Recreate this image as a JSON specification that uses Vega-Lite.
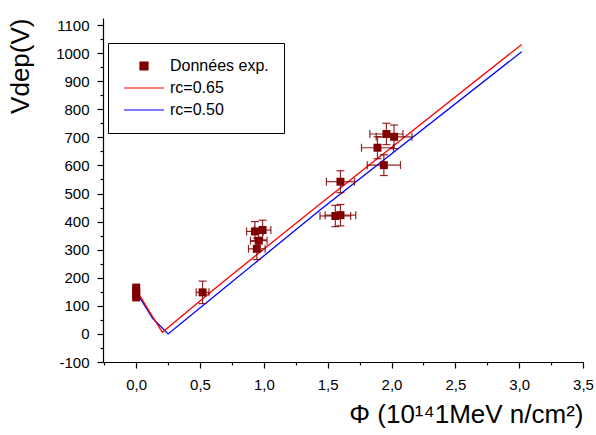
{
  "$schema": "https://vega.github.io/schema/vega-lite/v6.json",
  "width": 480,
  "height": 344,
  "autosize": {"type": "none"},
  "padding": {"left": 103, "top": 18, "right": 13, "bottom": 73},
  "background": "white",
  "config": {"view": {"stroke": null}, "axis": {"grid": false, "labelOverlap": false, "labelFlush": false, "labelBound": false}, "font": "Liberation Sans"},
  "datasets": {
    "pts": [
      {"series": "Données exp.", "x": 0, "y": 130},
      {"series": "Données exp.", "x": 0, "y": 140},
      {"series": "Données exp.", "x": 0, "y": 155},
      {"series": "Données exp.", "x": 0, "y": 165},
      {"series": "Données exp.", "x": 0.52, "y": 148, "xlo": 0.47, "xhi": 0.57, "ylo": 108, "yhi": 188},
      {"series": "Données exp.", "x": 0.93, "y": 365, "xlo": 0.865, "xhi": 0.995, "ylo": 330, "yhi": 400},
      {"series": "Données exp.", "x": 0.99, "y": 370, "xlo": 0.925, "xhi": 1.055, "ylo": 335, "yhi": 405},
      {"series": "Données exp.", "x": 0.96, "y": 332, "xlo": 0.895, "xhi": 1.025, "ylo": 297, "yhi": 367},
      {"series": "Données exp.", "x": 0.945, "y": 303, "xlo": 0.88, "xhi": 1.01, "ylo": 265, "yhi": 341},
      {"series": "Données exp.", "x": 1.6, "y": 542, "xlo": 1.49, "xhi": 1.71, "ylo": 503, "yhi": 581},
      {"series": "Données exp.", "x": 1.56, "y": 420, "xlo": 1.44, "xhi": 1.68, "ylo": 382, "yhi": 458},
      {"series": "Données exp.", "x": 1.6, "y": 423, "xlo": 1.48, "xhi": 1.72, "ylo": 385, "yhi": 461},
      {"series": "Données exp.", "x": 1.89, "y": 663, "xlo": 1.765, "xhi": 2.015, "ylo": 624, "yhi": 702},
      {"series": "Données exp.", "x": 1.96, "y": 712, "xlo": 1.83, "xhi": 2.09, "ylo": 674, "yhi": 750},
      {"series": "Données exp.", "x": 2.02, "y": 702, "xlo": 1.88, "xhi": 2.16, "ylo": 660, "yhi": 744},
      {"series": "Données exp.", "x": 1.94, "y": 601, "xlo": 1.81, "xhi": 2.07, "ylo": 564, "yhi": 638}
    ],
    "fits": [
      {"series": "rc=0.50", "x": 0, "y": 150},
      {"series": "rc=0.50", "x": 0.13, "y": 55},
      {"series": "rc=0.50", "x": 0.25, "y": 0},
      {"series": "rc=0.50", "x": 0.66, "y": 152},
      {"series": "rc=0.50", "x": 1.44, "y": 441},
      {"series": "rc=0.50", "x": 3.02, "y": 1005},
      {"series": "rc=0.65", "x": 0, "y": 158},
      {"series": "rc=0.65", "x": 0.1, "y": 82},
      {"series": "rc=0.65", "x": 0.205, "y": 6},
      {"series": "rc=0.65", "x": 0.66, "y": 178},
      {"series": "rc=0.65", "x": 1.44, "y": 463},
      {"series": "rc=0.65", "x": 3.02, "y": 1031}
    ]
  },
  "layer": [
    {
      "data": {"name": "fits"},
      "mark": {"type": "line", "strokeWidth": 1.3},
      "encoding": {
        "x": {
          "field": "x", "type": "quantitative",
          "title": "Φ (10¹⁴1MeV n/cm²)",
          "scale": {"domain": [-0.26, 3.5], "nice": false, "zero": false},
          "axis": {
            "values": [-0.25, 0, 0.25, 0.5, 0.75, 1, 1.25, 1.5, 1.75, 2, 2.25, 2.5, 2.75, 3, 3.25, 3.5],
            "tickCount": 100,
            "labelExpr": "indexof([0, 0.5, 1, 1.5, 2, 2.5, 3, 3.5], datum.value) >= 0 ? replace(format(datum.value, '.1f'), '.', ',') : ''",
            "tickSize": {"condition": {"test": "indexof([0, 0.5, 1, 1.5, 2, 2.5, 3, 3.5], datum.value) >= 0", "value": 6}, "value": 3},
            "labelFontSize": 15,
            "tickColor": "black", "tickWidth": 1.2,
            "domainColor": "black", "domainWidth": 1.2,
            "labelFont": "Liberation Sans", "labelColor": "black",
            "labelPadding": 9, "labelOverlap": false, "labelFlush": false, "labelBound": false,
            "titleFont": "Liberation Sans", "titleFontSize": 26, "titleFontWeight": "normal",
            "titleColor": "black", "titleAnchor": "end", "titlePadding": 9, "grid": false
          }
        },
        "y": {
          "field": "y", "type": "quantitative",
          "title": "Vdep(V)",
          "scale": {"domain": [-100, 1125], "nice": false, "zero": false},
          "axis": {
            "values": [-100, -50, 0, 50, 100, 150, 200, 250, 300, 350, 400, 450, 500, 550, 600, 650, 700, 750, 800, 850, 900, 950, 1000, 1050, 1100],
            "tickCount": 100,
            "labelExpr": "datum.value % 100 === 0 ? '' + datum.value : ''",
            "tickSize": {"condition": {"test": "datum.value % 100 === 0", "value": 6}, "value": 3},
            "labelFontSize": 15,
            "tickColor": "black", "tickWidth": 1.2,
            "domainColor": "black", "domainWidth": 1.2,
            "labelFont": "Liberation Sans", "labelColor": "black",
            "labelPadding": 8, "labelOverlap": false, "labelFlush": false, "labelBound": false,
            "titleFont": "Liberation Sans", "titleFontSize": 26, "titleFontWeight": "normal",
            "titleColor": "black", "titleAnchor": "end", "titlePadding": 22, "grid": false
          }
        },
        "color": {"field": "series", "type": "nominal"}
      }
    },
    {
      "data": {"name": "pts"},
      "transform": [{"filter": "isValid(datum.ylo)"}],
      "mark": {"type": "rule", "color": "#800000", "strokeWidth": 1.2, "opacity": 0.85},
      "encoding": {
        "x": {"field": "x", "type": "quantitative"},
        "y": {"field": "ylo", "type": "quantitative"},
        "y2": {"field": "yhi"}
      }
    },
    {
      "data": {"name": "pts"},
      "transform": [{"filter": "isValid(datum.xlo)"}],
      "mark": {"type": "rule", "color": "#800000", "strokeWidth": 1.2, "opacity": 0.85},
      "encoding": {
        "y": {"field": "y", "type": "quantitative"},
        "x": {"field": "xlo", "type": "quantitative"},
        "x2": {"field": "xhi"}
      }
    },
    {
      "data": {"name": "pts"},
      "transform": [{"filter": "isValid(datum.ylo)"}],
      "mark": {"type": "tick", "orient": "horizontal", "size": 8, "thickness": 1.2, "color": "#800000", "opacity": 0.85},
      "encoding": {
        "x": {"field": "x", "type": "quantitative"},
        "y": {"field": "ylo", "type": "quantitative"}
      }
    },
    {
      "data": {"name": "pts"},
      "transform": [{"filter": "isValid(datum.yhi)"}],
      "mark": {"type": "tick", "orient": "horizontal", "size": 8, "thickness": 1.2, "color": "#800000", "opacity": 0.85},
      "encoding": {
        "x": {"field": "x", "type": "quantitative"},
        "y": {"field": "yhi", "type": "quantitative"}
      }
    },
    {
      "data": {"name": "pts"},
      "transform": [{"filter": "isValid(datum.xlo)"}],
      "mark": {"type": "tick", "orient": "vertical", "size": 8, "thickness": 1.2, "color": "#800000", "opacity": 0.85},
      "encoding": {
        "x": {"field": "xlo", "type": "quantitative"},
        "y": {"field": "y", "type": "quantitative"}
      }
    },
    {
      "data": {"name": "pts"},
      "transform": [{"filter": "isValid(datum.xhi)"}],
      "mark": {"type": "tick", "orient": "vertical", "size": 8, "thickness": 1.2, "color": "#800000", "opacity": 0.85},
      "encoding": {
        "x": {"field": "xhi", "type": "quantitative"},
        "y": {"field": "y", "type": "quantitative"}
      }
    },
    {
      "data": {"name": "pts"},
      "mark": {"type": "point", "filled": true, "opacity": 1, "size": 64},
      "encoding": {
        "x": {"field": "x", "type": "quantitative"},
        "y": {"field": "y", "type": "quantitative"},
        "color": {
          "field": "series", "type": "nominal",
          "scale": {"domain": ["Données exp.", "rc=0.65", "rc=0.50"], "range": ["#800000", "#ff0000", "#0000ff"]},
          "legend": {
            "orient": "none", "legendX": 5, "legendY": 25, "title": null,
            "strokeColor": "black", "fillColor": "white", "padding": 15, "cornerRadius": 0,
            "labelFont": "Liberation Sans", "labelFontSize": 16, "labelColor": "black",
            "symbolSize": 1600, "clipHeight": 16, "labelOffset": 5, "rowPadding": 6,
            "symbolStrokeWidth": 1.2, "symbolOpacity": 1,
            "encode": {
              "symbols": {
                "update": {
                  "size": {"signal": "datum.value === 'Données exp.' ? 64 : 1600"},
                  "stroke": {"scale": "color", "field": "value"},
                  "strokeWidth": {"value": 1.2}
                }
              }
            }
          }
        },
        "shape": {
          "field": "series", "type": "nominal",
          "scale": {"domain": ["Données exp.", "rc=0.65", "rc=0.50"], "range": ["square", "stroke", "stroke"]}
        }
      }
    },
    {
      "mark": {"type": "text", "text": "STM 500 µm", "font": "Liberation Sans", "fontSize": 27, "align": "center", "baseline": "middle", "color": "black"},
      "encoding": {
        "x": {"datum": 1.99, "type": "quantitative"},
        "y": {"datum": 1080, "type": "quantitative"}
      }
    }
  ]
}
